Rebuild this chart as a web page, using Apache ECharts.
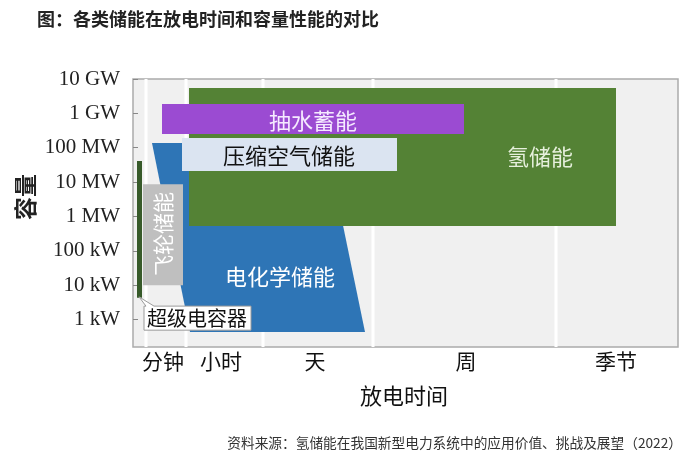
<!DOCTYPE html>
<html><head><meta charset="utf-8">
<script src="https://cdn.jsdelivr.net/npm/echarts@6/dist/echarts.min.js"></script>
<style>html,body{margin:0;padding:0;background:#fff}#c{width:700px;height:458px}</style>
</head><body><div id="c"></div>
<script>
// x: relative discharge-time scale (arbitrary units); y: log10(capacity / kW)
const timeLabels = ['分钟', '小时', '天', '周', '季节'];
const timeLabelPos = [30, 88, 182, 333, 483];
const timeGrid = [13, 53, 130, 240, 423];
const capLabels = ['1 kW', '10 kW', '100 kW', '1 MW', '10 MW', '100 MW', '1 GW', '10 GW'];
const capTicks = [0, 1, 2, 3, 4, 5, 6, 7];

const hydrogenTime = [56, 483], hydrogenCap = [2.72, 6.74];
const pumpedTime = [29, 331], pumpedCap = [5.40, 6.27];
const caesTime = [49, 264], caesCap = [4.32, 5.28];
const batteryTopTime = [19, 193], batteryBottomTime = [57, 232], batteryCap = [-0.36, 5.14];
const flywheelTime = [10, 50], flywheelCap = [1.0, 3.94];
const supercapTime = [4, 9], supercapCap = [0.63, 4.61];

// label anchors (data units)
const hydrogenLabelAt = [407, 4.73];
const pumpedLabelAt = [180, 5.78];
const caesLabelAt = [156, 4.76];
const batteryLabelAt = [147, 1.24];
const flywheelLabelAt = [30, 2.49];
const supercapBox = [[11, 118], [-0.31, 0.39]];
const supercapLabelAt = [64, 0.04];

const CJK = '"Noto Sans CJK SC", sans-serif';

function txt(p, text, color, size, rot) {
  return {
    type: 'text', x: p[0], y: p[1], rotation: rot || 0,
    style: { text, fill: color, font: size + 'px ' + CJK,
      align: 'center', verticalAlign: 'middle', textAlign: 'center', textVerticalAlign: 'middle' }
  };
}

function rectSeries(name, t, c, color, z, label) {
  return {
    type: 'custom', name, z, silent: true,
    data: [[t[0], c[0], t[1], c[1]]],
    encode: { x: [0, 2], y: [1, 3] },
    renderItem: function (params, api) {
      const p0 = api.coord([api.value(0), api.value(3)]);
      const p1 = api.coord([api.value(2), api.value(1)]);
      const children = [{ type: 'rect', shape: { x: p0[0], y: p0[1], width: p1[0] - p0[0], height: p1[1] - p0[1] }, style: { fill: color } }];
      if (label) children.push(txt(api.coord(label.at), label.text, label.color, label.size, label.rot));
      return { type: 'group', children };
    }
  };
}

const series = [
  {
    type: 'custom', name: 'grid', z: 1, silent: true,
    data: timeGrid.map(v => [v]),
    encode: { x: 0 },
    renderItem: function (params, api) {
      const cs = params.coordSys;
      const x = api.coord([api.value(0), 0])[0];
      return { type: 'line', shape: { x1: x, y1: cs.y, x2: x, y2: cs.y + cs.height }, style: { stroke: '#ffffff', lineWidth: 3 } };
    }
  },
  {
    type: 'custom', name: '电化学储能', z: 2, silent: true,
    data: [[batteryTopTime[0], batteryTopTime[1], batteryBottomTime[0], batteryBottomTime[1], batteryCap[0], batteryCap[1]]],
    renderItem: function (params, api) {
      const pts = [
        api.coord([api.value(0), api.value(5)]),
        api.coord([api.value(1), api.value(5)]),
        api.coord([api.value(3), api.value(4)]),
        api.coord([api.value(2), api.value(4)])
      ];
      return { type: 'group', children: [
        { type: 'polygon', shape: { points: pts }, style: { fill: '#2e75b6' } },
        txt(api.coord(batteryLabelAt), '电化学储能', '#ffffff', 22)
      ] };
    }
  },
  rectSeries('氢储能', hydrogenTime, hydrogenCap, '#548235', 3, { at: hydrogenLabelAt, text: '氢储能', color: '#e6f0dc', size: 22 }),
  rectSeries('抽水蓄能', pumpedTime, pumpedCap, '#9b4bd2', 4, { at: pumpedLabelAt, text: '抽水蓄能', color: '#f5eaff', size: 22 }),
  rectSeries('压缩空气储能', caesTime, caesCap, '#dbe4f1', 5, { at: caesLabelAt, text: '压缩空气储能', color: '#111111', size: 22 }),
  rectSeries('飞轮储能', flywheelTime, flywheelCap, '#bfbfbf', 6, { at: flywheelLabelAt, text: '飞轮储能', color: '#ffffff', size: 21, rot: Math.PI / 2 }),
  rectSeries('超级电容器', supercapTime, supercapCap, '#375a2a', 7),
  {
    type: 'custom', name: '超级电容器标注', z: 8, silent: true,
    data: [[supercapBox[0][0], supercapBox[0][1], supercapBox[1][0], supercapBox[1][1], supercapTime[0] + 2, supercapCap[0] + 0.03]],
    renderItem: function (params, api) {
      const x0 = api.value(0), x1 = api.value(1), y0 = api.value(2), y1 = api.value(3);
      const tip = api.coord([api.value(4), api.value(5)]);
      const tl = api.coord([x0, y1]), br = api.coord([x1, y0]);
      const pts = [
        tl, [tl[0] + 2, tl[1]], tip, [tl[0] + 10, tl[1]], [br[0], tl[1]], br, [tl[0], br[1]]
      ];
      return { type: 'group', children: [
        { type: 'polygon', shape: { points: pts }, style: { fill: '#ffffff', stroke: '#9a9a9a', lineWidth: 1 } },
        txt(api.coord(supercapLabelAt), '超级电容器', '#111111', 20)
      ] };
    }
  }
];

const chart = echarts.init(document.getElementById('c'));
chart.setOption({
  animation: false,
  backgroundColor: '#ffffff',
  grid: { left: 133, top: 79, width: 545, height: 268, show: true, backgroundColor: '#f0f0f0', borderColor: '#aaaaaa', borderWidth: 1.5 },
  xAxis: {
    type: 'value', min: 0, max: 545,
    axisLine: { show: false }, splitLine: { show: false },
    axisTick: { show: false },
    axisLabel: {
      customValues: timeLabelPos, margin: 4,
      formatter: v => timeLabels[timeLabelPos.indexOf(v)] || '',
      fontFamily: CJK, fontSize: 21, color: '#111111'
    }
  },
  yAxis: {
    type: 'value', min: -0.8, max: 7,
    axisLine: { show: false }, splitLine: { show: false },
    axisTick: { show: true, inside: true, length: 5, customValues: capTicks, lineStyle: { color: '#888888', width: 1 } },
    axisLabel: {
      customValues: capTicks, margin: 13,
      formatter: v => capLabels[capTicks.indexOf(v)] || '',
      fontFamily: '"Liberation Serif", serif', fontSize: 21, color: '#222222'
    }
  },
  graphic: [
    { type: 'text', left: 37, top: 10, style: { text: '图：各类储能在放电时间和容量性能的对比', font: 'bold 18px ' + CJK, fill: '#222222' } },
    { type: 'text', x: 25, y: 197, rotation: Math.PI / 2, style: { text: '容量', font: 'bold 23px ' + CJK, fill: '#222222', textAlign: 'center', textVerticalAlign: 'middle', align: 'center', verticalAlign: 'middle' } },
    { type: 'text', x: 404, y: 396, style: { text: '放电时间', font: '22px ' + CJK, fill: '#111111', textAlign: 'center', textVerticalAlign: 'middle', align: 'center', verticalAlign: 'middle' } },
    { type: 'text', x: 682, y: 443, style: { text: '资料来源：氢储能在我国新型电力系统中的应用价值、挑战及展望（2022）', font: '13.7px ' + CJK, fill: '#333333', textAlign: 'right', textVerticalAlign: 'middle', align: 'right', verticalAlign: 'middle' } }
  ],
  series
});
</script></body></html>
